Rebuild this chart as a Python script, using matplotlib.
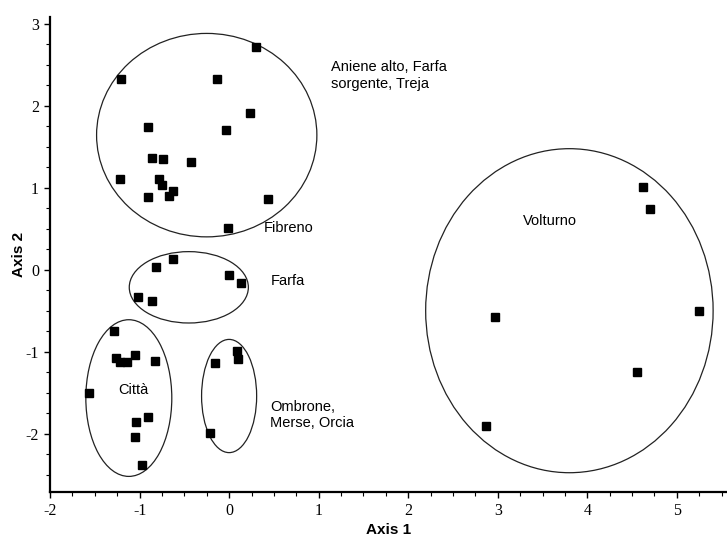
import matplotlib
matplotlib.use('Agg')
from matplotlib import pyplot as plt
from matplotlib.patches import Ellipse
from matplotlib.ticker import MultipleLocator

# site scores on the first two ordination axes, grouped by river cluster
aniene_x = [0.30, -1.21, -0.13, 0.23, -0.91, -0.04, -0.86, -0.74, -0.43,
            -1.22, -0.78, -0.75, -0.63, -0.67, -0.91, 0.43, -0.01]
aniene_y = [2.72, 2.33, 2.33, 1.91, 1.74, 1.70, 1.36, 1.35, 1.31,
            1.11, 1.11, 1.03, 0.96, 0.90, 0.89, 0.86, 0.51]
farfa_x = [-0.63, -0.82, 0.00, 0.13, -1.02, -0.86]
farfa_y = [0.13, 0.03, -0.06, -0.16, -0.33, -0.38]
citta_x = [-1.29, -1.26, -1.22, -1.14, -1.05, -0.83, -1.56, -0.91, -1.04, -1.05, -0.97]
citta_y = [-0.75, -1.08, -1.12, -1.12, -1.04, -1.11, -1.50, -1.79, -1.86, -2.04, -2.38]
ombrone_x = [0.09, 0.10, -0.16, -0.21]
ombrone_y = [-0.99, -1.09, -1.14, -1.99]
volturno_x = [4.62, 4.70, 2.97, 5.25, 4.56, 2.87]
volturno_y = [1.01, 0.74, -0.58, -0.50, -1.25, -1.90]

# cluster outlines: centre x, centre y, width, height
outlines = [
    (-0.25, 1.64, 2.46, 2.48),
    (-0.45, -0.215, 1.33, 0.87),
    (-1.12, -1.565, 0.96, 1.91),
    (0.00, -1.54, 0.615, 1.38),
    (3.80, -0.50, 3.21, 3.95),
]

labels = ['Aniene alto, Farfa\nsorgente, Treja', 'Fibreno', 'Farfa', 'Città',
          'Ombrone,\nMerse, Orcia', 'Volturno']
label_x = [1.14, 0.39, 0.46, -1.24, 0.46, 3.28]
label_y = [2.37, 0.51, -0.14, -1.47, -1.77, 0.59]

plt.rcParams['font.family'] = ['Liberation Sans', 'DejaVu Sans']
plt.rcParams['axes.unicode_minus'] = False

fig = plt.figure(figsize=(7.27, 5.40), dpi=100)
ax = fig.add_axes([0.0688, 0.0889, 0.9312, 0.8796])

for xs, ys in [(aniene_x, aniene_y), (farfa_x, farfa_y), (citta_x, citta_y),
               (ombrone_x, ombrone_y), (volturno_x, volturno_y)]:
    ax.plot(xs, ys, 's', color='black', markersize=5.5, zorder=3)

for cx, cy, w, h in outlines:
    ax.add_patch(Ellipse((cx, cy), w, h, fill=False, edgecolor='#222222', linewidth=0.9))

for text, tx, ty in zip(labels, label_x, label_y):
    ax.text(tx, ty, text, fontsize=10.5, ha='left', va='center', linespacing=1.25)

ax.set_xlim(-2, 5.56)
ax.set_ylim(-2.71, 3.08)
ax.xaxis.set_major_locator(MultipleLocator(1))
ax.xaxis.set_minor_locator(MultipleLocator(0.25))
ax.yaxis.set_major_locator(MultipleLocator(1))
ax.yaxis.set_minor_locator(MultipleLocator(0.25))

for side in ['top', 'right']:
    ax.spines[side].set_visible(False)
for side in ['left', 'bottom']:
    ax.spines[side].set_linewidth(1.6)

ax.tick_params(which='major', length=4, width=1, labelsize=11.5, pad=4)
ax.tick_params(which='minor', length=3, width=0.8)
for lab in ax.get_xticklabels() + ax.get_yticklabels():
    lab.set_fontfamily('Liberation Serif')

ax.set_xlabel('Axis 1', fontsize=11, fontweight='bold', labelpad=3)
ax.set_ylabel('Axis 2', fontsize=11, fontweight='bold', labelpad=0)

plt.savefig('out.png', dpi=100)
